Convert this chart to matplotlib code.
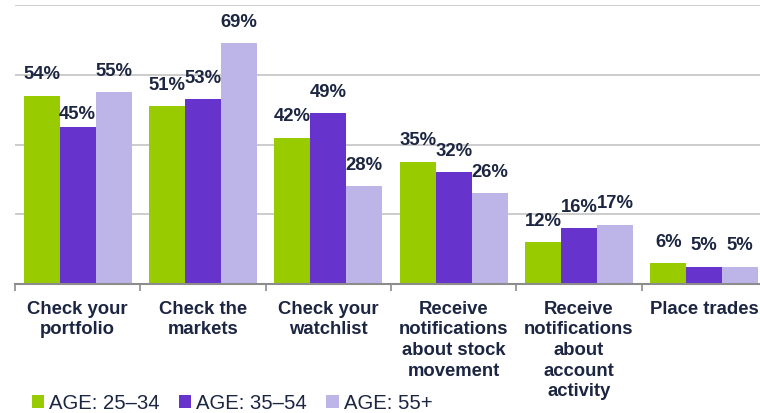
import numpy as np
import matplotlib.pyplot as plt
from matplotlib.patches import Patch

plt.rcParams['font.family'] = ['Liberation Sans', 'DejaVu Sans']

categories = ['Check your\nportfolio', 'Check the\nmarkets', 'Check your\nwatchlist',
              'Receive\nnotifications\nabout stock\nmovement',
              'Receive\nnotifications\nabout\naccount\nactivity',
              'Place trades']
series_names = ['AGE: 25\u201334', 'AGE: 35\u201354', 'AGE: 55+']
age_25_34 = [54, 51, 42, 35, 12, 6]
age_35_54 = [45, 53, 49, 32, 16, 5]
age_55_plus = [55, 69, 28, 26, 17, 5]

colors = ['#99cc00', '#6633cc', '#bdb5e8']
text_color = '#1c2541'

fig = plt.figure(figsize=(7.6, 4.13), dpi=100)
ax = fig.add_axes([15 / 760, 129 / 413, 752 / 760, 279 / 413])

x = np.arange(len(categories))
w = 0.287
all_series = [age_25_34, age_35_54, age_55_plus]
for i, vals in enumerate(all_series):
    bars = ax.bar(x + (i - 1) * w, vals, w, color=colors[i], zorder=2)
    for b, v in zip(bars, vals):
        # the 45% label sits a bit lower in the original
        dy = 13 if (i == 1 and v == 45) else 21
        ax.annotate(f'{v}%', (b.get_x() + b.get_width() / 2, v),
                    xytext=(0, dy), textcoords='offset pixels',
                    ha='center', va='center', fontsize=13.3,
                    fontweight='bold', color=text_color, zorder=3)

ax.set_xlim(-0.5, 5.5)
ax.set_ylim(0, 80)
ax.set_yticks([20, 40, 60, 80])
ax.yaxis.grid(True, color='#c4c4c4', linewidth=1.2, zorder=0)
ax.tick_params(axis='y', length=0, labelleft=False)

ax.set_xticks(np.arange(len(categories) + 1) - 0.5)
ax.set_xticklabels([])
ax.set_xticks(x, minor=True)
ax.set_xticklabels(categories, minor=True, fontsize=13.3, fontweight='bold',
                   color=text_color, linespacing=1.28, va='top')
ax.tick_params(axis='x', which='major', length=5, width=1.2, color='#8c8c8c', direction='out')
ax.tick_params(axis='x', which='minor', length=0, pad=12)

for s in ['top', 'right', 'left']:
    ax.spines[s].set_visible(False)
ax.spines['bottom'].set_color('#8c8c8c')
ax.spines['bottom'].set_linewidth(1.5)

handles = [Patch(facecolor=c, edgecolor='none') for c in colors]
fig.legend(handles, series_names, loc='lower left', bbox_to_anchor=(32 / 760, 0.0),
           ncol=3, frameon=False, fontsize=14.6, handlelength=0.6, handleheight=0.6,
           handletextpad=0.25, columnspacing=0.95, borderpad=0, borderaxespad=0,
           labelcolor=text_color)

fig.savefig('out.png', dpi=100)
